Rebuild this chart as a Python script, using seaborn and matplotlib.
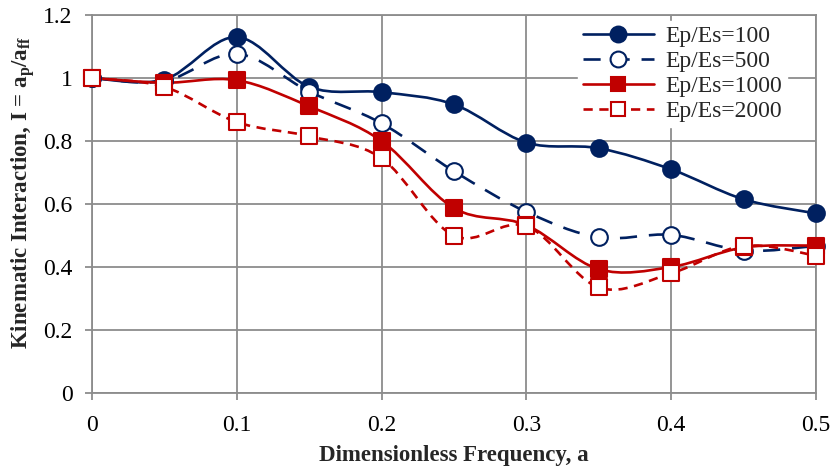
import numpy as np
import matplotlib
matplotlib.use("Agg")
import matplotlib.pyplot as plt
import seaborn as sns
from matplotlib.path import Path
from matplotlib.patches import PathPatch
from matplotlib.lines import Line2D

freq = [0, 0.05, 0.1, 0.15, 0.2, 0.25, 0.3, 0.35, 0.4, 0.45, 0.5]
ep100 = [1.0, 0.995, 1.13, 0.972, 0.955, 0.916, 0.795, 0.777, 0.71, 0.615, 0.57]
ep500 = [1.0, 0.99, 1.077, 0.957, 0.856, 0.704, 0.575, 0.494, 0.502, 0.452, 0.467]
ep1000 = [1.0, 0.985, 0.993, 0.91, 0.80, 0.587, 0.533, 0.393, 0.40, 0.462, 0.468]
ep2000 = [1.0, 0.972, 0.86, 0.815, 0.745, 0.499, 0.53, 0.335, 0.38, 0.467, 0.436]
labels = ["Ep/Es=100", "Ep/Es=500", "Ep/Es=1000", "Ep/Es=2000"]
xticks = [0, 0.1, 0.2, 0.3, 0.4, 0.5]
xticklabels = ["0", "0.1", "0.2", "0.3", "0.4", "0.5"]
yticks = [0, 0.2, 0.4, 0.6, 0.8, 1.0, 1.2]
yticklabels = ["0", "0.2", "0.4", "0.6", "0.8", "1", "1.2"]

navy = "#002060"
red = "#C00000"

sns.set_theme(style="white")
plt.rcParams["font.family"] = ["Liberation Serif", "DejaVu Serif"]
plt.rcParams["mathtext.fontset"] = "custom"
plt.rcParams["mathtext.rm"] = "Liberation Serif"
plt.rcParams["mathtext.bf"] = "Liberation Serif:bold"
plt.rcParams["mathtext.it"] = "Liberation Serif:italic"

fig = plt.figure(figsize=(8.34, 4.75), dpi=100)
ax = fig.add_axes([92/834, 1-393/475, (816-92)/834, (393-15)/475])


def smooth_path(xs, ys):
    pts = np.column_stack([xs, ys])
    verts = [tuple(pts[0])]
    codes = [Path.MOVETO]
    n = len(pts)
    for i in range(n - 1):
        p0 = pts[i - 1] if i > 0 else pts[i]
        p1 = pts[i]
        p2 = pts[i + 1]
        p3 = pts[i + 2] if i + 2 < n else pts[i + 1]
        c1 = p1 + (p2 - p0) / 6.0
        c2 = p2 - (p3 - p1) / 6.0
        verts += [tuple(c1), tuple(c2), tuple(p2)]
        codes += [Path.CURVE4] * 3
    return Path(verts, codes)


series = [
    (ep100, navy, "-", None, "o", navy, 12),
    (ep500, navy, "--", (6.5, 4.5), "o", "white", 12),
    (ep1000, red, "-", None, "s", red, 11),
    (ep2000, red, "--", (3.5, 2.5), "s", "white", 11),
]

handles = []
for (vals, col, ls, dash, mk, mfc, ms), lab in zip(series, labels):
    patch = PathPatch(smooth_path(freq, vals), facecolor="none", edgecolor=col,
                      lw=1.9, linestyle=ls, zorder=3, capstyle="butt")
    if dash is not None:
        patch.set_linestyle((0, dash))
    ax.add_patch(patch)
    sns.scatterplot(x=freq, y=vals, ax=ax, marker=mk, s=ms**2, color=mfc,
                    edgecolor=col, linewidth=1.5, zorder=4, legend=False,
                    clip_on=False)
    h = Line2D([], [], color=col, lw=1.9, marker=mk, markersize=ms * 0.95,
               markerfacecolor=mfc, markeredgecolor=col, markeredgewidth=1.5)
    if dash is not None:
        h.set_dashes(dash)
    handles.append(h)

ax.set_xlim(0, 0.5)
ax.set_ylim(0, 1.2)
ax.set_xticks(xticks)
ax.set_xticklabels(xticklabels)
ax.set_yticks(yticks)
ax.set_yticklabels(yticklabels)
ax.grid(True, color="#8c8c8c", lw=1.3)
ax.set_axisbelow(True)
for sp in ax.spines.values():
    sp.set_color("#8c8c8c")
    sp.set_linewidth(1.3)
ax.tick_params(axis="both", which="both", direction="out", length=5, width=1.3,
               color="#8c8c8c", labelsize=17, labelcolor="black",
               bottom=True, left=True)
ax.tick_params(axis="x", pad=11)
ax.tick_params(axis="y", pad=9)

ax.set_xlabel("Dimensionless Frequency, a", fontsize=16.5, fontweight="bold", labelpad=6)
ax.set_ylabel(r"Kinematic Interaction, I = a$_\mathbf{p}$/a$_\mathbf{ff}$",
              fontsize=16.5, fontweight="bold")
ax.yaxis.set_label_coords(-0.076, 0.53)

leg = ax.legend(handles, labels, loc="upper right", bbox_to_anchor=(0.96, 0.985),
                frameon=True, fontsize=17, handlelength=3.0, handletextpad=0.5,
                labelspacing=0.15, borderpad=0.2, borderaxespad=0.0, fancybox=False)
leg.get_frame().set_edgecolor("white")
leg.get_frame().set_facecolor("white")
leg.get_frame().set_alpha(1.0)

fig.savefig("out.png", dpi=100)
